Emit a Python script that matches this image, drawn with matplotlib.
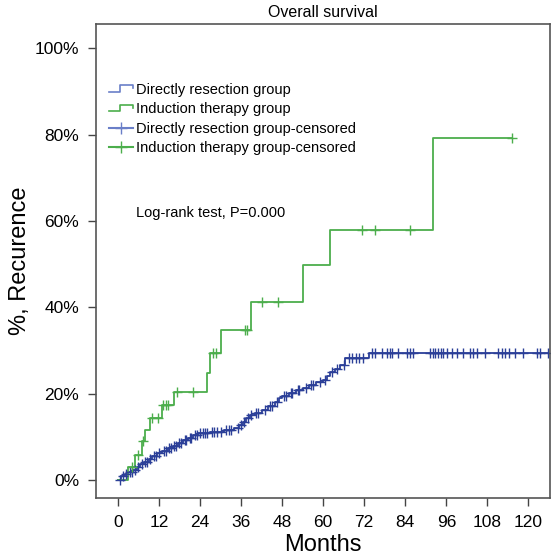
import numpy as np
import matplotlib
matplotlib.use("Agg")
import matplotlib.pyplot as plt
from matplotlib.lines import Line2D
from matplotlib.legend_handler import HandlerBase
from matplotlib.ticker import FuncFormatter

plt.rcParams["font.family"] = ["Liberation Sans", "DejaVu Sans"]

BLUE = "#2b3f98"
GREEN = "#4cae4c"

# Directly resection group: step times (months) and cumulative recurrence (%)
blue_t = [0, 1, 2, 3, 4.5, 5.5, 6.5, 7.5, 9, 10, 11.5, 13, 14.5, 16, 17.5, 19,
          20.5, 22, 23.5, 27, 31, 34, 35.5, 36.5, 37.5, 38.5, 40, 42, 44, 46,
          47, 48, 50, 52, 54, 56, 58, 60, 61, 62, 63.5, 65, 66.5, 73.5]
blue_y = [0, 0.8, 1.3, 1.8, 2.3, 3.0, 3.6, 4.2, 4.8, 5.5, 6.2, 6.8, 7.3, 7.9, 8.5, 9.2,
          9.8, 10.3, 10.9, 11.2, 11.6, 12.0, 12.7, 13.5, 14.3, 15.0, 15.6, 16.2, 17.0, 18.0,
          19.0, 19.5, 20.2, 20.8, 21.4, 22.0, 22.6, 23.2, 24.0, 25.0, 25.8, 26.6, 28.2, 29.3]
blue_cens = [0.5, 1.5, 2.5, 3.5, 4, 5, 6, 7, 8, 8.5, 9.5, 10.5, 11, 12, 13.5, 14, 15,
             15.5, 16.5, 17, 18, 18.5, 19.5, 20, 21, 21.5, 22.5, 23, 24, 25, 25.5, 26,
             27.5, 28, 29, 30, 31.5, 32.5, 33, 35, 36, 37, 38, 39, 40.5, 41, 43, 44.5,
             45, 46.5, 48.5, 49, 50.5, 51, 52.5, 53, 55, 56.5, 57, 59, 60.5, 62.5, 64,
             66, 67.5, 68.5, 69.5, 70.5, 71.5, 74.2, 75.1, 77.1, 78.6, 79.5, 80, 82,
             84.4, 85.4, 86.2, 91.2, 92, 92.8, 93.6, 94.4, 95.1, 96.3, 97.6, 99, 101,
             102.9, 103.9, 104.9, 107.3, 111.2, 112.2, 113.2, 114.2, 116.1, 118.5,
             122.4, 123.4, 125.8]

# Induction therapy group
green_t = [0, 3, 5, 7, 8, 9.5, 12.8, 16.3, 26, 27, 30, 39, 54, 62, 92]
green_y = [0, 3.1, 5.8, 8.9, 11.6, 14.4, 17.4, 20.4, 24.7, 29.3, 34.7, 41.3, 49.8, 57.9, 79.1]
green_cens = [4.0, 6.0, 7.4, 9.9, 11.8, 13.3, 14.0, 14.6, 17.2, 22.0, 27.8, 28.8,
              37.1, 37.6, 42.0, 46.9, 71.3, 75.1, 85.4, 115.3]

blue_end = 125.8
green_end = 115.3


def level_at(times, levels, t):
    idx = np.searchsorted(times, t, side="right") - 1
    return np.asarray(levels)[idx]


class StepHandler(HandlerBase):
    def create_artists(self, legend, orig_handle, xdescent, ydescent,
                       width, height, fontsize, trans):
        x0, x1 = -xdescent, -xdescent + width
        xs = [x0, x0 + width * 0.45, x0 + width * 0.45, x1, x1]
        ys = [height * 0.2, height * 0.2, height * 0.8, height * 0.8, height * 0.5]
        line = Line2D(xs, ys, color=orig_handle.get_color(), lw=1.2, transform=trans)
        return [line]


fig = plt.figure(figsize=(5.54, 5.59), dpi=100)
ax = fig.add_axes([0.1733, 0.1091, 0.8195, 0.8479])

ax.step(blue_t + [blue_end], blue_y + [blue_y[-1]], where="post", color=BLUE, lw=1.3)
ax.step(green_t + [green_end], green_y + [green_y[-1]], where="post", color=GREEN, lw=1.3)

ax.plot(blue_cens, level_at(blue_t, blue_y, blue_cens), linestyle="none",
        marker="+", color=BLUE, ms=7, mew=1.0)
ax.plot(green_cens, level_at(green_t, green_y, green_cens), linestyle="none",
        marker="+", color=GREEN, ms=7, mew=1.0)

ax.set_xlim(-6.4, 126.3)
ax.set_ylim(-4.2, 105.6)
ax.set_xticks(range(0, 121, 12))
ax.set_yticks(range(0, 101, 20))
ax.yaxis.set_major_formatter(FuncFormatter(lambda v, p: f"{v:.0f}%"))
ax.tick_params(direction="out", length=6, width=1, color="#444444",
               labelsize=12.5, pad=6)
for s in ax.spines.values():
    s.set_color("#555555")
    s.set_linewidth(1.2)

ax.set_xlabel("Months", fontsize=17, labelpad=3)
ax.set_ylabel("%, Recurence", fontsize=17, labelpad=3)
ax.set_title("Overall survival", fontsize=11.5, pad=5)

h1 = Line2D([], [], color="#6a7fc8")
h2 = Line2D([], [], color=GREEN)
h3 = Line2D([], [], color="#6a7fc8", marker="+", linestyle="-", ms=8, mew=1)
h4 = Line2D([], [], color=GREEN, marker="+", linestyle="-", ms=8, mew=1)
ax.legend([h1, h2, h3, h4],
          ["Directly resection group", "Induction therapy group",
           "Directly resection group-censored", "Induction therapy group-censored"],
          handler_map={h1: StepHandler(), h2: StepHandler()},
          loc="upper left", bbox_to_anchor=(0.01, 0.895), frameon=False,
          fontsize=10.5, handlelength=1.6, handletextpad=0.2, labelspacing=0.38,
          borderaxespad=0.2)

ax.text(5.3, 61.8, "Log-rank test, P=0.000", fontsize=10.5, va="center")

fig.savefig("out.png", dpi=100)
